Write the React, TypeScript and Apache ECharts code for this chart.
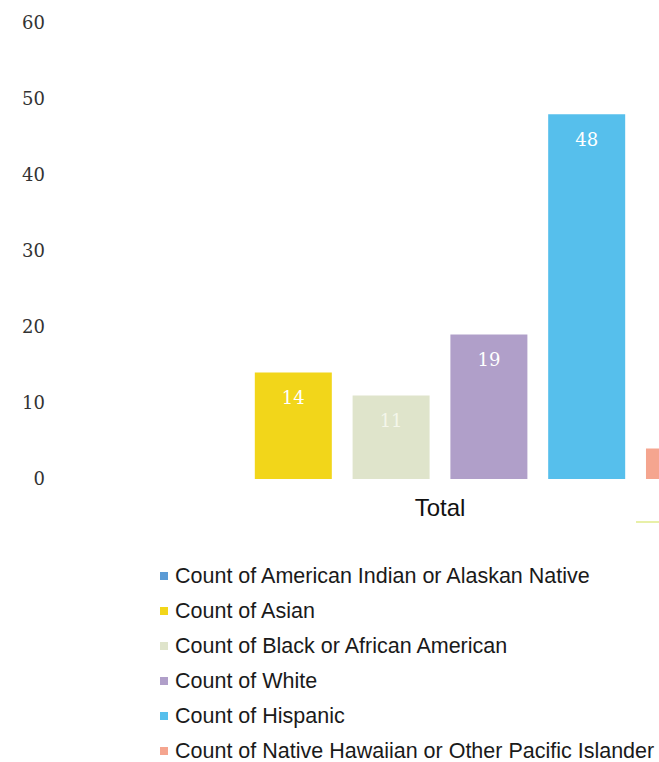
import React, { useEffect, useRef } from "react";
import * as echarts from "echarts";

const categories = ["Total"];
const seriesNames = [
  "Count of American Indian or Alaskan Native",
  "Count of Asian",
  "Count of Black or African American",
  "Count of White",
  "Count of Hispanic",
  "Count of Native Hawaiian or Other Pacific Islander",
];
const seriesValues = [0, 14, 11, 19, 48, 4];
const seriesColors = ["#5b9bd5", "#f2d61a", "#dfe4cb", "#b09fc9", "#56bfec", "#f5a58f"];
const yTicks = [0, 10, 20, 30, 40, 50, 60];

export default function App() {
  const ref = useRef<HTMLDivElement>(null);
  useEffect(() => {
    if (!ref.current) return;
    const chart = echarts.init(ref.current, undefined, { renderer: "svg" });
    chart.setOption({
      animation: false,
      backgroundColor: "#ffffff",
      grid: { left: 60, top: 23, width: 760, height: 456, containLabel: false },
      xAxis: {
        type: "category",
        data: categories,
        axisLine: { show: false },
        axisTick: { show: false },
        axisLabel: {
          color: "#111",
          fontFamily: "Liberation Sans, Arial, sans-serif",
          fontSize: 24,
          margin: 16,
        },
      },
      yAxis: {
        type: "value",
        min: yTicks[0],
        max: yTicks[yTicks.length - 1],
        interval: 10,
        splitLine: { show: false },
        axisLine: { show: false },
        axisTick: { show: false },
        axisLabel: {
          color: "#333",
          fontFamily: "DejaVu Serif, Liberation Serif, serif",
          fontSize: 18,
          margin: 15,
          verticalAlign: "top",
          padding: [-10, 0, 0, 0],
        },
      },
      legend: {
        orient: "vertical",
        left: 160,
        top: 565,
        padding: 0,
        icon: "rect",
        itemWidth: 8,
        itemHeight: 8,
        itemGap: 13,
        data: seriesNames,
        textStyle: {
          color: "#1a1a1a",
          fontFamily: "Liberation Sans, Arial, sans-serif",
          fontSize: 21.5,
          lineHeight: 22,
          padding: [0, 0, 0, 2],
        },
      },
      series: seriesNames.map((name, i) => ({
        name,
        type: "bar",
        data: [seriesValues[i]],
        barWidth: 77,
        barGap: "27%",
        itemStyle: { color: seriesColors[i] },
        label: {
          show: true,
          position: "insideTop",
          distance: 16,
          color: i === 2 ? "#f4f6ea" : "#ffffff",
          fontFamily: "DejaVu Serif, Liberation Serif, serif",
          fontSize: 18,
          formatter: (p: any) => (p.value > 4 ? String(p.value) : ""),
        },
      })),
      graphic: [
        {
          type: "rect",
          shape: { x: 636, y: 521, width: 23, height: 2 },
          style: { fill: "#e8f0a8" },
        },
      ],
    });
    return () => chart.dispose();
  }, []);
  return (
    <div style={{ position: "fixed", left: 0, top: 0, width: 659, height: 762, overflow: "hidden", background: "#fff" }}>
      <div ref={ref} style={{ width: 900, height: 800 }} />
    </div>
  );
}
